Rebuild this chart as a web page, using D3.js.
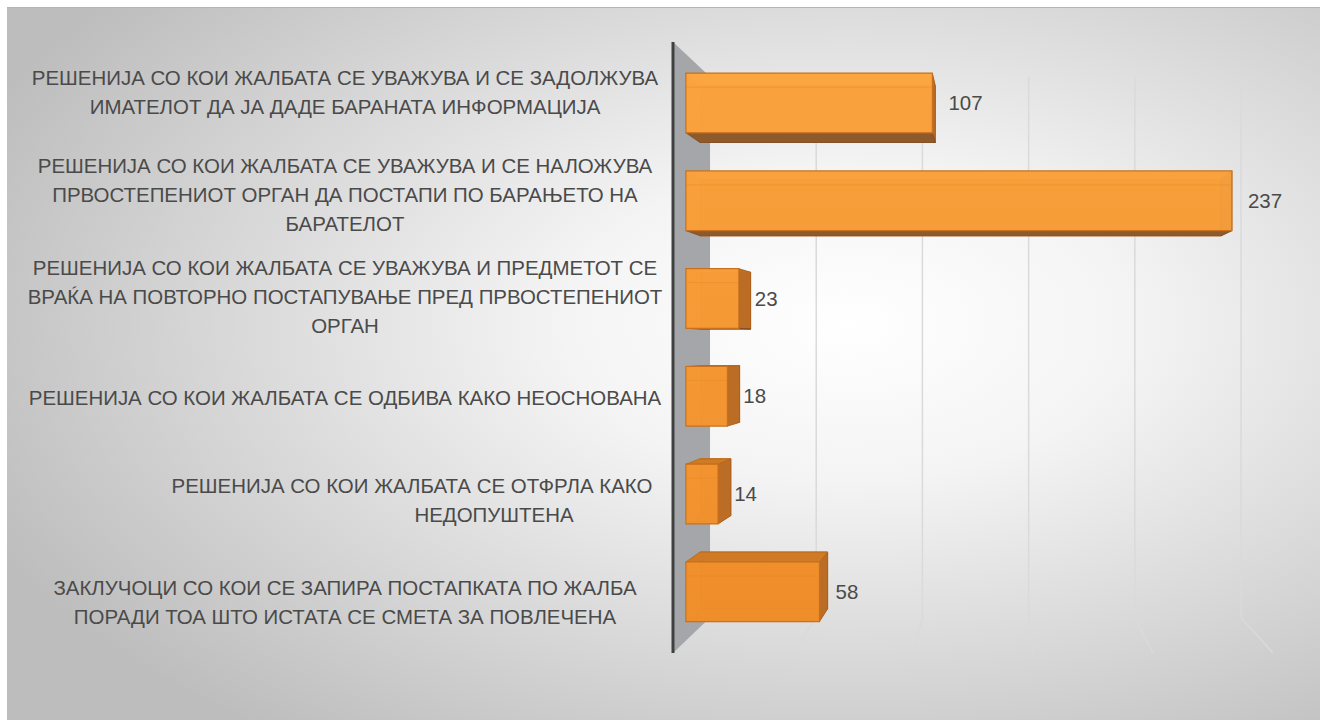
<!DOCTYPE html>
<html>
<head>
<meta charset="utf-8">
<script src="https://cdn.jsdelivr.net/npm/d3@7"></script>
<style>
  body { margin: 0; background: #fff; }
  svg { display: block; }
  text { font-family: "Liberation Sans Narrow", "Liberation Sans", Arial, sans-serif; fill: #4a4a4a; }
</style>
</head>
<body>
<div class="content-container"></div>
<script>

// DATA

const categories = ["c1", "c2", "c3", "c4", "c5", "c6"];

const categoryLines = [
  ["РЕШЕНИЈА СО КОИ ЖАЛБАТА СЕ УВАЖУВА И СЕ ЗАДОЛЖУВА", "ИМАТЕЛОТ ДА ЈА ДАДЕ БАРАНАТА ИНФОРМАЦИЈА"],
  ["РЕШЕНИЈА СО КОИ ЖАЛБАТА СЕ УВАЖУВА И СЕ НАЛОЖУВА", "ПРВОСТЕПЕНИОТ ОРГАН ДА ПОСТАПИ ПО БАРАЊЕТО НА", "БАРАТЕЛОТ"],
  ["РЕШЕНИЈА СО КОИ ЖАЛБАТА СЕ УВАЖУВА И ПРЕДМЕТОТ СЕ", "ВРАЌА НА ПОВТОРНО ПОСТАПУВАЊЕ ПРЕД ПРВОСТЕПЕНИОТ", "ОРГАН"],
  ["РЕШЕНИЈА СО КОИ ЖАЛБАТА СЕ ОДБИВА КАКО НЕОСНОВАНА"],
  ["РЕШЕНИЈА СО КОИ ЖАЛБАТА СЕ ОТФРЛА КАКО", "НЕДОПУШТЕНА"],
  ["ЗАКЛУЧОЦИ СО КОИ СЕ ЗАПИРА ПОСТАПКАТА ПО ЖАЛБА", "ПОРАДИ ТОА ШТО ИСТАТА СЕ СМЕТА ЗА ПОВЛЕЧЕНА"]
];

const values = [107, 237, 23, 18, 14, 58];

const gridValues = [50, 100, 150, 200, 250];

// LAYOUT

const width = 1327;
const height = 720;

// perspective: vanishing point and depth factors (1 = front plane)
const VX = 995, VY = 345;
const kFront = 0.96, kBack = 0.916, kWall = 0.885;

const proj = function(X, Y, k) {
  return [VX + k * (X - VX), VY + k * (Y - VY)];
};

const xScale = d3.scaleLinear()
  .domain([0, 250])
  .range([673, 1273]);

const yScale = d3.scaleBand()
  .domain(categories)
  .range([42, 653])
  .paddingInner(0.39)
  .paddingOuter(0.195);

const top0 = yScale.range()[0];
const bot0 = yScale.range()[1];

const svg = d3.select(".content-container")
  .append("svg")
  .attr("width", width)
  .attr("height", height);

const defs = svg.append("defs");

// background radial gradient
const bg = defs.append("radialGradient")
  .attr("id", "bg")
  .attr("cx", 0.64).attr("cy", 0.44).attr("r", 0.72);
bg.append("stop").attr("offset", "0%").attr("stop-color", "#ffffff");
bg.append("stop").attr("offset", "30%").attr("stop-color", "#f4f4f4");
bg.append("stop").attr("offset", "100%").attr("stop-color", "#bdbdbd");

// bar front gradient over the whole plot
const barGrad = defs.append("linearGradient")
  .attr("id", "barGrad")
  .attr("gradientUnits", "userSpaceOnUse")
  .attr("x1", 0).attr("y1", 60).attr("x2", 0).attr("y2", 630);
barGrad.append("stop").attr("offset", "0%").attr("stop-color", "#fda843");
barGrad.append("stop").attr("offset", "100%").attr("stop-color", "#f08e2a");

svg.append("rect")
  .attr("x", 7).attr("y", 7)
  .attr("width", 1313).attr("height", height)
  .attr("fill", "url(#bg)");

svg.append("line")
  .attr("x1", 7).attr("x2", 1320)
  .attr("y1", 7.5).attr("y2", 7.5)
  .attr("stroke", "#b5b5b5");

//WALL (value axis side wall)

const x0 = xScale(0);
const wallPts = [proj(x0, top0, 1), proj(x0, top0, kWall), proj(x0, bot0, kWall), proj(x0, bot0, 1)];

svg.append("polygon")
  .attr("points", wallPts.map(p => p.join(",")).join(" "))
  .attr("fill", "#a4a6a9");

//GRIDLINES on back wall + floor

svg.selectAll("path.grid")
  .data(gridValues)
  .enter()
  .append("path")
  .attr("class", "grid")
  .attr("d", (v) => {
    const a = proj(xScale(v), top0, kWall);
    const b = proj(xScale(v), bot0, kWall);
    const c = proj(xScale(v), bot0, 1);
    return "M" + a + "L" + b + "L" + c;
  })
  .attr("fill", "none")
  .attr("stroke", "#dadada")
  .attr("stroke-width", 1.5);

svg.append("line")
  .attr("x1", proj(x0, top0, 1)[0]).attr("y1", proj(x0, top0, 1)[1])
  .attr("x2", proj(x0, bot0, 1)[0]).attr("y2", proj(x0, bot0, 1)[1])
  .attr("stroke", "#404040")
  .attr("stroke-width", 3);

//BARS

const poly = function(pts) {
  return pts.map(p => p[0].toFixed(1) + "," + p[1].toFixed(1)).join(" ");
};

const bars = svg.selectAll("g.bar")
  .data(values)
  .enter()
  .append("g")
  .attr("class", "bar");

bars.each(function(v, i) {
  const g = d3.select(this);
  const X0 = xScale(0), X1 = xScale(v);
  const Y0 = yScale(categories[i]), Y1 = Y0 + yScale.bandwidth();
  const F = [proj(X0, Y0, kFront), proj(X1, Y0, kFront), proj(X1, Y1, kFront), proj(X0, Y1, kFront)];
  const B = [proj(X0, Y0, kBack), proj(X1, Y0, kBack), proj(X1, Y1, kBack), proj(X0, Y1, kBack)];

  // back + hidden faces first
  g.append("polygon").attr("points", poly(B)).attr("fill", "#e2801f").attr("stroke", "#c96e1a");
  g.append("polygon").attr("points", poly([F[0], F[3], B[3], B[0]])).attr("fill", "#e98d29");

  const upper = (Y0 + Y1) / 2 < VY;
  if (upper) {
    g.append("polygon").attr("points", poly([F[0], F[1], B[1], B[0]])).attr("fill", "#f29a34");
  } else {
    g.append("polygon").attr("points", poly([F[3], F[2], B[2], B[3]])).attr("fill", "#e48523");
  }

  // right end
  g.append("polygon").attr("points", poly([F[1], F[2], B[2], B[1]]))
    .attr("fill", "#b86a26").attr("fill-opacity", 0.9)
    .attr("stroke", "#a75c1c").attr("stroke-width", 0.8);

  // visible top or bottom face
  if (upper) {
    g.append("polygon").attr("points", poly([F[3], F[2], B[2], B[3]]))
      .attr("fill", "#8e5a2c").attr("stroke", "#7c4c22").attr("stroke-width", 0.8);
  } else {
    g.append("polygon").attr("points", poly([F[0], F[1], B[1], B[0]]))
      .attr("fill", "#cf7a24").attr("stroke", "#b8681c").attr("stroke-width", 0.8);
  }

  // front (a little translucent)
  g.append("polygon").attr("points", poly(F))
    .attr("fill", "url(#barGrad)").attr("fill-opacity", 0.88)
    .attr("stroke", "#c8701d").attr("stroke-width", 1.2);

  // bevel highlight under the top edge
  g.append("line")
    .attr("x1", F[0][0] + 1).attr("x2", F[1][0] - 1)
    .attr("y1", F[0][1] + 14).attr("y2", F[0][1] + 14)
    .attr("stroke", "#e88a25").attr("stroke-opacity", 0.5);
});

//TEXT

const fontSize = 20;

const probe = svg.append("text")
  .style("font-size", fontSize + "px")
  .text(categoryLines[3][0]);
const sx = 633 / probe.node().getComputedTextLength();
probe.remove();

// value labels
svg.selectAll("text.value")
  .data(values)
  .enter()
  .append("text")
  .attr("class", "value")
  .attr("transform", (v, i) => {
    const xr = proj(xScale(v), 0, kFront)[0] + 16;
    const yc = proj(0, yScale(categories[i]) + yScale.bandwidth() / 2, kFront)[1];
    return "translate(" + xr + "," + yc + ") scale(" + sx + ",1)";
  })
  .attr("dy", "0.35em")
  .style("font-size", fontSize + "px")
  .text((v) => v);

// category labels: centred block, except the 5th which the source wraps off-centre
const labelX = 345;
const lineStep = 29;
const lineCenters = { 4: [412, 494] };

categoryLines.forEach(function(lines, i) {
  const yc = yScale(categories[i]) + yScale.bandwidth() / 2;
  lines.forEach(function(line, j) {
    const yy = yc + (j - (lines.length - 1) / 2) * lineStep;
    const xx = lineCenters[i] ? lineCenters[i][j] : labelX;
    svg.append("text")
      .attr("class", "cat")
      .attr("transform", "translate(" + xx + "," + yy + ") scale(" + sx + ",1)")
      .attr("text-anchor", "middle")
      .attr("dy", "0.35em")
      .style("font-size", fontSize + "px")
      .text(line);
  });
});

</script>
</body>
</html>
